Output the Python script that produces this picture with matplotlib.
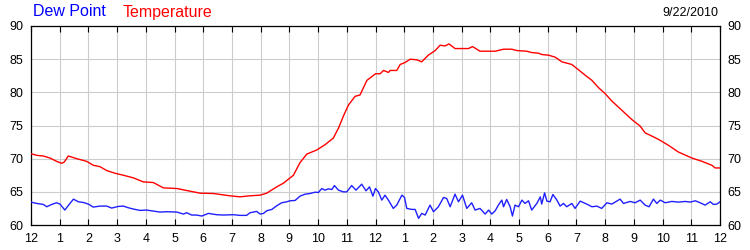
import matplotlib
matplotlib.use("Agg")
import matplotlib.pyplot as plt

plt.rcParams['font.family'] = ['Liberation Sans', 'DejaVu Sans']

# hours after midnight
temp_hours = [0.0, 0.20, 0.43, 0.66, 0.89, 1.07, 1.16, 1.30, 1.59, 1.94, 2.17, 2.40, 2.64, 2.93,
              3.22, 3.57, 3.91, 4.26, 4.61, 5.08, 5.42, 5.89, 6.35, 6.93, 7.28, 7.63, 7.98, 8.21,
              8.56, 8.79, 9.14, 9.37, 9.61, 9.95, 10.24, 10.53, 10.71, 10.88, 11.06, 11.29, 11.46,
              11.70, 12.0,
              12.16, 12.28, 12.45, 12.51, 12.74, 12.86, 13.03, 13.21, 13.44, 13.61, 13.84, 14.08,
              14.25, 14.42, 14.56, 14.77, 15.01, 15.24, 15.38, 15.64, 15.94, 16.17, 16.46, 16.75,
              16.92, 17.27, 17.44, 17.68, 17.79, 18.03, 18.26, 18.49, 18.84, 19.07, 19.30, 19.54,
              19.77, 20.00, 20.23, 20.58, 20.93, 21.22, 21.39, 21.63, 21.86, 22.21, 22.55, 23.02,
              23.37, 23.72, 23.83, 24.0]
temperature = [70.75, 70.5, 70.4, 70.1, 69.6, 69.3, 69.5, 70.4, 70.0, 69.6, 69.0, 68.8, 68.2, 67.8,
               67.5, 67.1, 66.5, 66.4, 65.6, 65.5, 65.2, 64.8, 64.75, 64.4, 64.25, 64.4, 64.5, 64.8,
               65.75, 66.3, 67.5, 69.4, 70.7, 71.3, 72.1, 73.1, 74.6, 76.4, 78.1, 79.4, 79.6,
               81.8, 82.8,
               82.8, 83.3, 83.0, 83.3, 83.3, 84.2, 84.5, 85.0, 84.9, 84.6, 85.6, 86.3,
               87.1, 87.0, 87.3, 86.6, 86.6, 86.6, 86.9, 86.2, 86.2, 86.2, 86.5, 86.5,
               86.3, 86.2, 86.0, 85.9, 85.7, 85.6, 85.3, 84.6, 84.2, 83.4, 82.6, 81.8,
               80.7, 79.8, 78.7, 77.3, 75.9, 74.9, 73.9, 73.4, 72.9, 72.0, 71.0, 70.1,
               69.6, 69.0, 68.6, 68.6]

dew_hours = [0.0, 0.20, 0.43, 0.55, 0.72, 0.89, 1.01, 1.18, 1.30, 1.48, 1.65, 1.82, 2.00, 2.17,
             2.40, 2.64, 2.81, 3.04, 3.22, 3.39, 3.57, 3.80, 4.03, 4.26, 4.49, 4.73, 5.08, 5.31,
             5.42, 5.60, 5.77, 5.95, 6.18, 6.47, 6.70, 7.05, 7.28, 7.51, 7.63, 7.86, 7.98, 8.10,
             8.21, 8.39, 8.56, 8.73, 8.91, 9.02, 9.20, 9.37, 9.55, 9.72, 9.90, 10.01, 10.13, 10.24,
             10.36, 10.48, 10.57, 10.71, 10.88, 11.00, 11.17, 11.32, 11.52, 11.67, 11.79, 11.91, 12.0,
             12.10, 12.22, 12.33, 12.45, 12.62, 12.74, 12.92, 13.01, 13.09, 13.26,
             13.38, 13.50, 13.61, 13.73, 13.90, 14.02, 14.19, 14.37, 14.48, 14.60,
             14.77, 14.89, 15.03, 15.18, 15.35, 15.47, 15.64, 15.82, 15.94, 16.05,
             16.17, 16.28, 16.40, 16.46, 16.57, 16.69, 16.77, 16.86, 16.98, 17.10,
             17.21, 17.33, 17.44, 17.62, 17.74, 17.79, 17.89, 17.97, 18.08, 18.18,
             18.32, 18.43, 18.55, 18.66, 18.84, 18.95, 19.13, 19.36, 19.54, 19.71,
             19.88, 20.06, 20.23, 20.52, 20.64, 20.87, 21.04, 21.22, 21.39, 21.53,
             21.68, 21.80, 21.92, 22.09, 22.32, 22.55, 22.79, 22.96, 23.14, 23.31,
             23.48, 23.66, 23.77, 23.89, 24.0]
dew_point = [63.45, 63.25, 63.1, 62.75, 63.1, 63.35, 63.15, 62.25, 62.95, 63.9, 63.5, 63.4, 63.15, 62.7,
             62.85, 62.85, 62.55, 62.8, 62.85, 62.6, 62.4, 62.2, 62.25, 62.1, 61.95, 62.0, 61.95, 61.65,
             61.85, 61.5, 61.5, 61.35, 61.75, 61.55, 61.5, 61.55, 61.45, 61.45, 61.85, 62.05, 61.65, 61.75,
             62.15, 62.35, 62.9, 63.35, 63.5, 63.65, 63.7, 64.35, 64.65, 64.75, 64.95, 64.9, 65.5, 65.25,
             65.45, 65.35, 65.95, 65.25, 65.0, 65.0, 65.95, 65.25, 66.15, 65.15, 65.75, 64.35, 65.5,
             65.0, 63.75, 64.5, 63.75, 62.5, 63.0, 64.5, 64.15, 62.5, 62.35,
             62.35, 61.0, 61.75, 61.5, 63.0, 62.0, 62.75, 64.15, 64.0, 62.75,
             64.65, 63.5, 64.5, 62.5, 63.35, 62.25, 62.5, 61.65, 62.25, 61.65,
             62.15, 63.0, 63.75, 62.75, 63.85, 62.75, 61.35, 63.0, 62.75, 63.75,
             63.25, 63.65, 62.25, 63.25, 64.25, 63.15, 64.85, 63.6, 63.5, 64.6,
             63.75, 62.85, 63.25, 62.75, 63.25, 62.5, 63.6, 63.15, 62.75, 62.85,
             62.5, 63.35, 63.15, 63.9, 63.25, 63.55, 63.35, 63.75, 63.0, 62.75,
             63.9, 63.25, 63.75, 63.35, 63.55, 63.45, 63.55, 63.45, 63.65, 63.35,
             63.0, 63.5, 63.1, 63.15, 63.5]

x_ticks = list(range(25))
x_labels = ['12', '1', '2', '3', '4', '5', '6', '7', '8', '9', '10', '11',
            '12', '1', '2', '3', '4', '5', '6', '7', '8', '9', '10', '11', '12']
y_ticks = [60, 65, 70, 75, 80, 85, 90]

fig = plt.figure(figsize=(7.5, 2.5), dpi=100)
ax = fig.add_axes([31/750, 1 - 225/250, (720 - 31)/750, (225 - 26)/250])

ax.plot(temp_hours, temperature, color='#ff0000', lw=1.0, zorder=3)
ax.plot(dew_hours, dew_point, color='#2020ff', lw=1.0, zorder=3)

ax.set_xlim(0, 24)
ax.set_ylim(60, 90)
ax.set_xticks(x_ticks)
ax.set_xticklabels(x_labels)
ax.set_yticks(y_ticks)
ax.grid(True, color='#cccccc', lw=0.8)
ax.set_axisbelow(True)
for s in ax.spines.values():
    s.set_color('black')
    s.set_linewidth(0.9)

ax.tick_params(axis='x', direction='in', length=4, width=0.8, top=True, bottom=True,
               labelsize=9, pad=6, colors='black')
ax.tick_params(axis='y', length=0, labelsize=9, pad=5.5, left=True, right=True,
               labelleft=True, labelright=True)

fig.text(33/750, 1 - 12/250, 'Dew Point', color='#0000ff', fontsize=11.5, va='center', ha='left')
fig.text(123/750, 1 - 12/250, 'Temperature', color='#ff0000', fontsize=11.5, va='center', ha='left')
fig.text(718/750, 1 - 13/250, '9/22/2010', color='black', fontsize=9, va='center', ha='right')

fig.savefig('out.png', dpi=100, facecolor='white')
